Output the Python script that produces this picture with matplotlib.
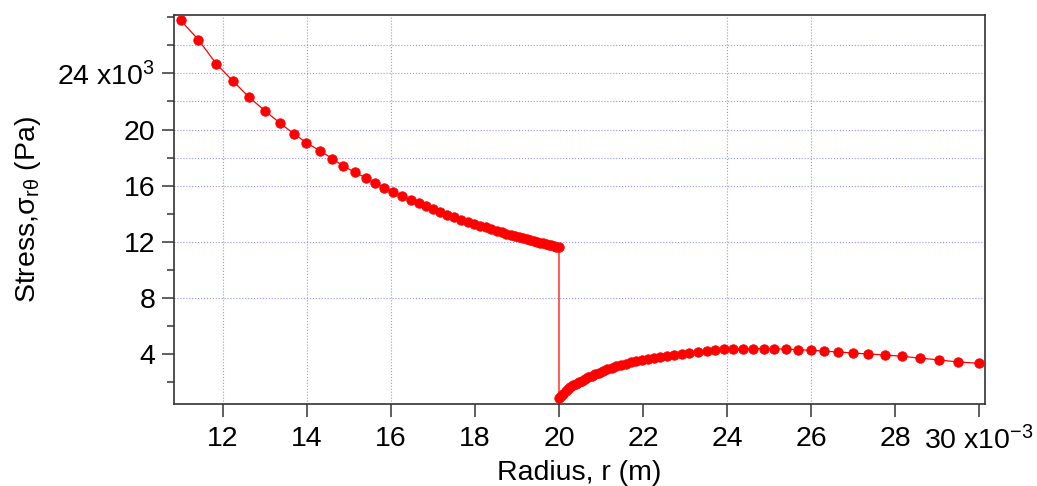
import numpy as np
import matplotlib
matplotlib.use('Agg')
from matplotlib import pyplot as plt
from matplotlib.ticker import MultipleLocator, FixedLocator, FuncFormatter

plt.rcParams['font.family'] = ['Liberation Sans', 'DejaVu Sans']
plt.rcParams['mathtext.fontset'] = 'custom'
plt.rcParams['mathtext.rm'] = 'Liberation Sans'
plt.rcParams['mathtext.it'] = 'Liberation Sans'
plt.rcParams['mathtext.default'] = 'regular'

## radius in mm (axis shows x10^-3 m), stress in units of 10^3 Pa
r_inner = [11.00, 11.42, 11.85, 12.25, 12.63, 13.00, 13.36, 13.69, 13.99, 14.32,
           14.61, 14.86, 15.14, 15.40, 15.62, 15.84, 16.05, 16.27, 16.47, 16.66,
           16.83, 17.00, 17.16, 17.34, 17.51, 17.68, 17.83, 17.98, 18.13, 18.26,
           18.39, 18.52, 18.64, 18.75, 18.86, 18.96, 19.06, 19.15, 19.24, 19.32,
           19.41, 19.48, 19.56, 19.63, 19.69, 19.76, 19.82, 19.88, 19.93, 20.00]
s_inner = [27.77, 26.39, 24.66, 23.43, 22.29, 21.34, 20.46, 19.70, 19.06, 18.47,
           17.92, 17.42, 16.95, 16.57, 16.19, 15.86, 15.55, 15.29, 14.98, 14.76,
           14.55, 14.34, 14.15, 13.94, 13.77, 13.59, 13.44, 13.29, 13.15, 13.03,
           12.91, 12.79, 12.69, 12.59, 12.50, 12.42, 12.33, 12.26, 12.19, 12.13,
           12.06, 12.00, 11.94, 11.89, 11.85, 11.80, 11.75, 11.71, 11.67, 11.62]

r_outer = [20.00, 20.05, 20.10, 20.16, 20.21, 20.27, 20.34, 20.40, 20.47, 20.54,
           20.62, 20.70, 20.78, 20.86, 20.95, 21.05, 21.15, 21.25, 21.36, 21.47,
           21.59, 21.71, 21.84, 21.97, 22.11, 22.26, 22.41, 22.57, 22.74, 22.92,
           23.10, 23.30, 23.52, 23.72, 23.93, 24.15, 24.37, 24.61, 24.87, 25.12,
           25.39, 25.68, 25.99, 26.30, 26.64, 26.99, 27.36, 27.75, 28.15, 28.58,
           29.03, 29.50, 30.00]
s_outer = [0.87, 1.03, 1.19, 1.36, 1.51, 1.65, 1.78, 1.89, 2.01, 2.13,
           2.25, 2.36, 2.47, 2.58, 2.69, 2.81, 2.92, 3.03, 3.14, 3.24,
           3.33, 3.42, 3.51, 3.60, 3.68, 3.76, 3.82, 3.88, 3.94, 4.01,
           4.09, 4.17, 4.24, 4.31, 4.35, 4.37, 4.39, 4.40, 4.40, 4.39,
           4.37, 4.33, 4.28, 4.23, 4.16, 4.09, 4.02, 3.95, 3.86, 3.73,
           3.60, 3.45, 3.36]

x_ticks = [12, 14, 16, 18, 20, 22, 24, 26, 28, 30]
y_ticks = [4, 8, 12, 16, 20, 24]
## grid lines that show up in the picture
x_grid = [12, 14, 16, 24, 26]
y_grid = [8, 12, 16, 18, 20, 22, 24, 26]

radius = np.array(r_inner + r_outer)
stress = np.array(s_inner + s_outer)

fig = plt.figure(figsize=(10.37, 4.86), dpi=100)
ax = fig.add_axes([0.1678, 0.1687, 0.782, 0.8004])

grid_kw = dict(color='#7a7aff', ls=':', lw=0.8, alpha=0.8, zorder=1)
for gx in x_grid:
    ax.axvline(gx, **grid_kw)
for gy in y_grid:
    ax.axhline(gy, **grid_kw)

ax.plot(radius, stress, color='red', lw=0.9, marker='o', markersize=6.8,
        markeredgewidth=0.6, markeredgecolor='red', zorder=3)

ax.set_xlim(10.84, 30.135)
ax.set_ylim(0.46, 28.15)

ax.xaxis.set_major_locator(FixedLocator(x_ticks))
ax.yaxis.set_major_locator(FixedLocator(y_ticks))
ax.yaxis.set_minor_locator(MultipleLocator(2))

def xfmt(v, pos):
    if abs(v - 30) < 1e-6:
        return '30 x10$^{-3}$'
    return '%d' % v

def yfmt(v, pos):
    if abs(v - 24) < 1e-6:
        return '24 x10$^{3}$'
    return '%d' % v

ax.xaxis.set_major_formatter(FuncFormatter(xfmt))
ax.yaxis.set_major_formatter(FuncFormatter(yfmt))

for sp in ax.spines.values():
    sp.set_color('#333333')
    sp.set_linewidth(1.2)

ax.tick_params(axis='both', which='major', length=9, width=1.2, color='#444444',
               labelsize=20.5)
ax.tick_params(axis='y', which='major', pad=4.5)
ax.tick_params(axis='x', which='major', pad=7)
ax.tick_params(axis='y', which='minor', length=5, width=1.2, color='#444444')

ax.set_xlabel('Radius, r (m)', fontsize=20.5)
ax.set_ylabel('Stress,σ$_{rθ}$ (Pa)', fontsize=20.5)
ax.xaxis.set_label_coords(0.5, -0.145)
ax.yaxis.set_label_coords(-0.162, 0.5)

plt.savefig('out.png', dpi=100)
